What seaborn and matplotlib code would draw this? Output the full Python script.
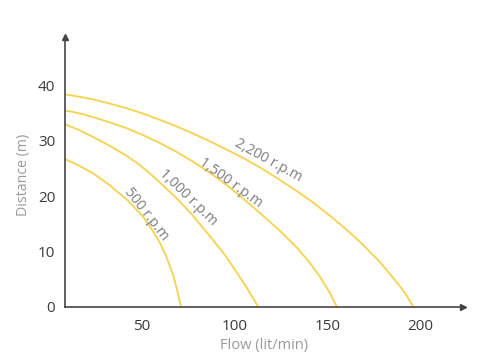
import matplotlib
matplotlib.use("Agg")
import matplotlib.pyplot as plt
import seaborn as sns
import pandas as pd

# Flow (lit/min) and distance (m)
flow_500 = [8.4, 16, 23.6, 32, 41.6, 46, 50.6, 55, 59.6, 63, 66.8, 69, 70.9]
dist_500 = [26.7, 25.5, 24.1, 22.1, 19.4, 17.9, 16.2, 14.1, 11.5, 9.1, 5.6, 2.8, 0]

flow_1000 = [8.4, 16, 23.6, 32, 41.6, 48, 54.2, 61, 68.6, 77, 86.6, 94, 101, 106.4, 110, 112.5]
dist_1000 = [33.0, 31.95, 30.7, 29.2, 27.3, 25.8, 24.1, 22.0, 19.6, 16.6, 12.7, 9.6, 6.2, 3.4, 1.4, 0]

flow_1500 = [8.4, 16, 23.6, 32, 41.6, 50, 59.6, 68, 77.6, 87, 96.3, 105, 115.3, 124, 133.3,
             140, 145.9, 151, 154.9]
dist_1500 = [35.5, 35.0, 34.3, 33.4, 32.3, 31.1, 29.6, 28.1, 26.2, 24.1, 21.8, 19.4, 16.4, 13.8, 10.7,
             8.1, 5.4, 2.6, 0]

flow_2200 = [8.4, 16, 23.6, 32, 41.6, 50, 59.6, 68, 77.6, 86.6, 95.6, 104.5, 113.5, 124.3, 133,
             142.3, 151, 160.3, 169, 178.3, 187.3, 192, 196.2]
dist_2200 = [38.4, 38.0, 37.5, 36.8, 35.9, 35.0, 33.8, 32.7, 31.3, 29.9, 28.4, 26.9, 25.2, 22.9, 21.0,
             18.8, 16.5, 13.9, 11.2, 8.0, 4.4, 2.3, 0]

speeds = ["500 r.p.m", "1,000 r.p.m", "1,500 r.p.m", "2,200 r.p.m"]
label_x = [52.3, 75.0, 97.8, 118.0]
label_y = [16.8, 19.8, 22.4, 26.4]
label_angle = [-52, -44, -36, -29]

x_ticks = [50, 100, 150, 200]
y_ticks = [0, 10, 20, 30, 40]

rows = []
for name, fx, dy in zip(speeds, [flow_500, flow_1000, flow_1500, flow_2200],
                        [dist_500, dist_1000, dist_1500, dist_2200]):
    for a, b in zip(fx, dy):
        rows.append({"speed": name, "flow": a, "dist": b})
df = pd.DataFrame(rows)

sns.set_style("white")
plt.rcParams['font.family'] = ['Open Sans', 'DejaVu Sans']

fig = plt.figure(figsize=(4.97, 3.62), dpi=100)
ax = fig.add_axes([65/497, 55.5/362, 398/497, 269.5/362])

yellow = "#F5D24F"
sns.lineplot(data=df, x="flow", y="dist", hue="speed", units="speed",
             estimator=None, sort=False, palette=[yellow]*4,
             linewidth=1.3, legend=False, ax=ax)

for t, x, y, a in zip(speeds, label_x, label_y, label_angle):
    ax.text(x, y, t, rotation=a, rotation_mode="anchor", ha="center", va="center",
            color="#7d7d7d", fontsize=10.2)

ax.set_xlim(8.4, 223)
ax.set_ylim(0, 48.8)
ax.set_xticks(x_ticks)
ax.set_yticks(y_ticks)
ax.tick_params(axis="both", length=0, labelsize=11, colors="#3a3a3a")
ax.tick_params(axis="y", pad=7)
ax.tick_params(axis="x", pad=9)
ax.set_xlabel("Flow (lit/min)", color="#9a9a9a", fontsize=10.5, labelpad=3)
ax.set_ylabel("Distance (m)", color="#9a9a9a", fontsize=10.2)
ax.yaxis.set_label_coords(-0.085, 0.488)

for s in ["top", "right"]:
    ax.spines[s].set_visible(False)
for s in ["left", "bottom"]:
    ax.spines[s].set_color("#444444")
    ax.spines[s].set_linewidth(1.2)
ax.plot(1, 0, ">", color="#444444", markersize=4, transform=ax.transAxes, clip_on=False)
ax.plot(0, 1, "^", color="#444444", markersize=4, transform=ax.transAxes, clip_on=False)

fig.savefig("out.png", dpi=100)
